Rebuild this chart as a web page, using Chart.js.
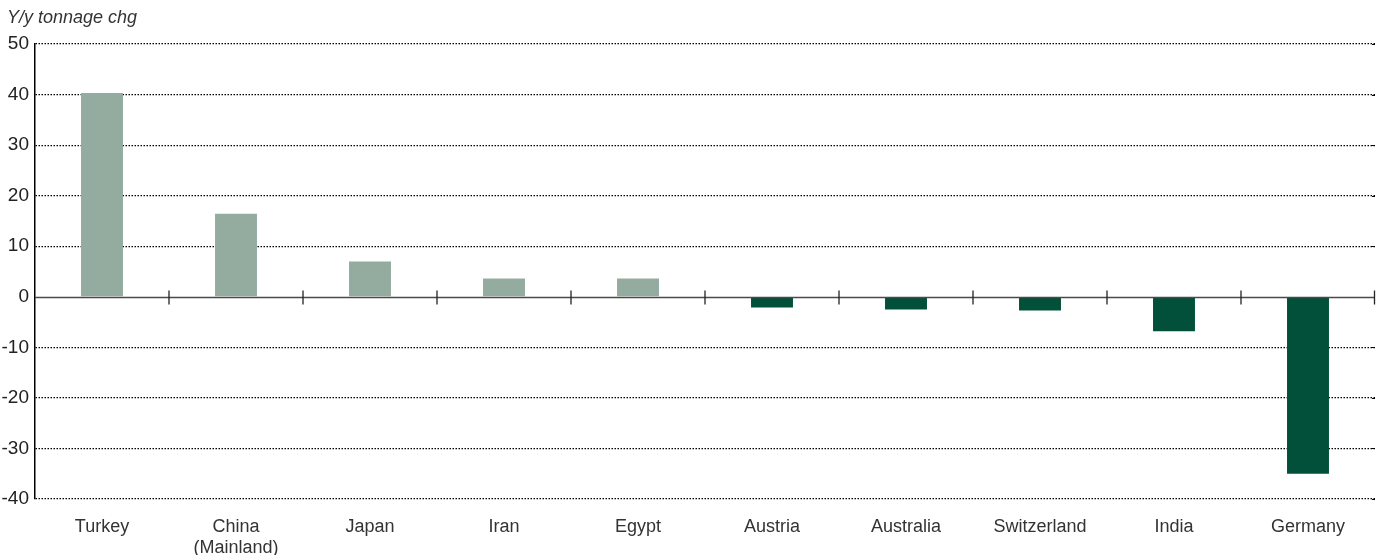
<!DOCTYPE html>
<html>
<head>
<meta charset="utf-8">
<script src="https://cdn.jsdelivr.net/npm/chart.js@4"></script>
<style>
  html, body { margin: 0; padding: 0; background: #fff; }
  #wrap { width: 1384px; height: 555px; position: relative; }
</style>
</head>
<body>
<div id="wrap"><canvas id="c"></canvas></div>
<script>
// Year-on-year change in gold tonnage by country
const categories = ['Turkey', ['China', '(Mainland)'], 'Japan', 'Iran', 'Egypt',
                    'Austria', 'Australia', 'Switzerland', 'India', 'Germany'];
const tonnageChange = [40.3, 16.4, 7.0, 3.6, 3.6, -2.1, -2.5, -2.7, -6.8, -35.0];
const yTicks = [50, 40, 30, 20, 10, 0, -10, -20, -30, -40];
const axisTitle = 'Y/y tonnage chg';

const LIGHT = '#93ac9f';
const DARK = '#02503a';
const FONT = "'Liberation Sans', Arial, sans-serif";

// Solid zero line with category separators, plus the axis caption
const zeroLinePlugin = {
  id: 'zeroLine',
  beforeDatasetsDraw(chart) {
    const { ctx, chartArea, scales } = chart;
    ctx.save();
    // small solid caps at the right end of each gridline
    ctx.strokeStyle = '#000';
    ctx.lineWidth = 1;
    yTicks.forEach(v => {
      if (v === 0) return;
      const yy = Math.round(scales.y.getPixelForValue(v)) + 0.5;
      ctx.beginPath();
      ctx.moveTo(chartArea.right - 3, yy);
      ctx.lineTo(chartArea.right, yy);
      ctx.stroke();
    });
    ctx.restore();
  },
  afterDatasetsDraw(chart) {
    const { ctx, chartArea, scales } = chart;
    const y0 = Math.round(scales.y.getPixelForValue(0)) + 0.5;
    ctx.save();
    ctx.strokeStyle = '#4a4a4a';
    ctx.lineWidth = 1.5;
    ctx.beginPath();
    ctx.moveTo(chartArea.left, y0);
    ctx.lineTo(chartArea.right, y0);
    ctx.stroke();
    const n = categories.length;
    ctx.strokeStyle = '#222';
    ctx.lineWidth = 1.3;
    for (let i = 1; i <= n; i++) {
      const x = i < n
        ? (scales.x.getPixelForValue(i - 1) + scales.x.getPixelForValue(i)) / 2
        : chartArea.right - 0.5;
      ctx.beginPath();
      ctx.moveTo(x, y0 - 7);
      ctx.lineTo(x, y0 + 7);
      ctx.stroke();
    }
    ctx.restore();
  },
  afterDraw(chart) {
    const { ctx } = chart;
    ctx.save();
    ctx.font = "italic 18px " + FONT;
    ctx.fillStyle = '#333';
    ctx.textBaseline = 'middle';
    ctx.textAlign = 'left';
    ctx.fillText(axisTitle, 7, 18);
    ctx.restore();
  }
};

new Chart(document.getElementById('c'), {
  type: 'bar',
  data: {
    labels: categories,
    datasets: [{
      data: tonnageChange,
      backgroundColor: tonnageChange.map(v => v >= 0 ? LIGHT : DARK),
      borderWidth: 0,
      barPercentage: 0.313,
      categoryPercentage: 1.0
    }]
  },
  options: {
    responsive: true,
    maintainAspectRatio: false,
    animation: false,
    events: [],
    layout: { padding: { top: 44, right: 9, bottom: 0, left: 0 } },
    plugins: {
      legend: { display: false },
      tooltip: { enabled: false },
      title: { display: false }
    },
    scales: {
      x: {
        grid: { display: false },
        border: { display: false },
        afterFit(scale) { scale.height = 56; },
        ticks: {
          color: '#333',
          font: { family: FONT, size: 18 },
          padding: 9,
          maxRotation: 0,
          autoSkip: false
        }
      },
      y: {
        min: -40,
        max: 50,
        afterBuildTicks(scale) { scale.ticks = yTicks.map(v => ({ value: v })); },
        afterFit(scale) { scale.width = 35; },
        grid: {
          drawTicks: false,
          color: ctx => (ctx.tick && ctx.tick.value === 0) ? 'rgba(0,0,0,0)' : '#000',
          lineWidth: 1.2
        },
        border: { display: true, color: '#000', width: 1.5, dash: [1.5, 1.5] },
        ticks: {
          color: '#222',
          font: { family: FONT, size: 19 },
          padding: 6
        }
      }
    }
  },
  plugins: [zeroLinePlugin]
});
</script>
</body>
</html>
